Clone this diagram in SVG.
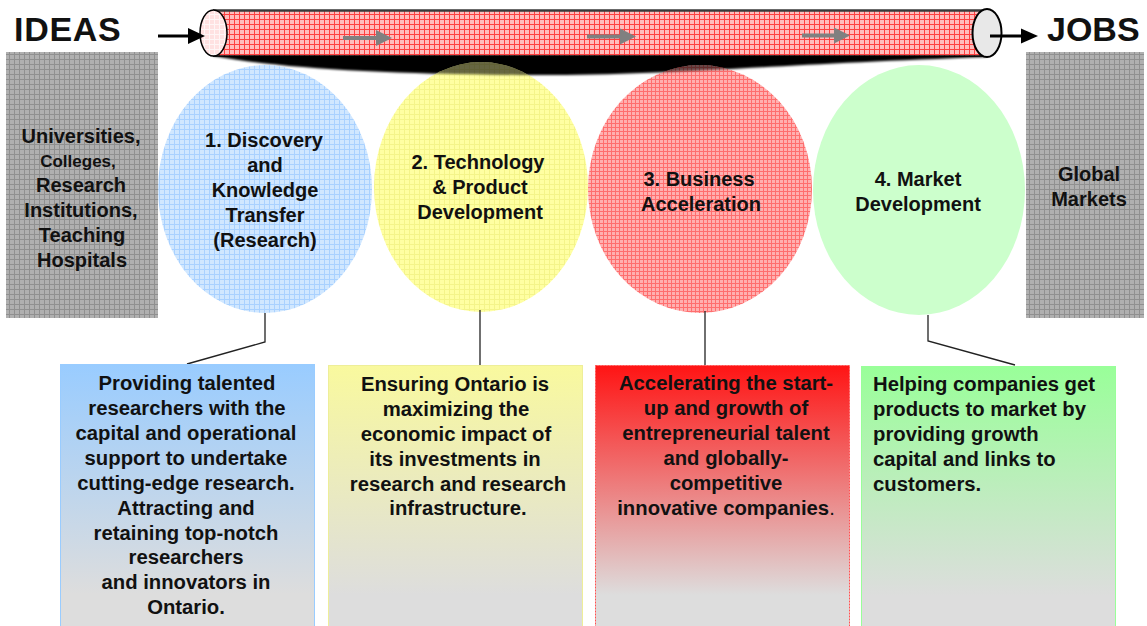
<svg xmlns="http://www.w3.org/2000/svg" width="1147" height="626" viewBox="0 0 1147 626">
  <style>
    .t { font-family: "Liberation Sans", Arial, sans-serif; font-weight: bold; fill: #111; }
    .big { font-size: 34px; }
    .lbl { font-size: 20px; text-anchor: middle; }
    .body { font-size: 20.3px; }
    .mid { text-anchor: middle; }
    .conn { fill: none; stroke: #222; stroke-width: 1.3; }
  </style>
  <defs>
    <pattern id="gridGray" width="5" height="5" patternUnits="userSpaceOnUse">
      <rect width="5" height="5" fill="#b0b0b0"/>
      <path d="M0 4.5H5M4.5 0V5" stroke="#909090" stroke-width="1"/>
    </pattern>
    <pattern id="gridBlue" width="5" height="5" patternUnits="userSpaceOnUse">
      <rect width="5" height="5" fill="#d0e7ff"/>
      <path d="M0 4.5H5M4.5 0V5" stroke="#a9d1ff" stroke-width="1"/>
    </pattern>
    <pattern id="gridYellow" width="5" height="5" patternUnits="userSpaceOnUse">
      <rect width="5" height="5" fill="#ffffa2"/>
      <path d="M0 4.5H5M4.5 0V5" stroke="#f4f48a" stroke-width="1"/>
    </pattern>
    <pattern id="gridRed" width="4" height="4" patternUnits="userSpaceOnUse">
      <rect width="4" height="4" fill="#ffb0b0"/>
      <path d="M0 3.5H4M3.5 0V4" stroke="#ff6e6e" stroke-width="1"/>
    </pattern>
    <pattern id="gridPipe" width="5" height="5" patternUnits="userSpaceOnUse">
      <rect width="5" height="5" fill="#ffbcbc"/>
      <path d="M0 4.5H5M4.5 0V5" stroke="#ff4040" stroke-width="1"/>
    </pattern>
    <pattern id="gridCap" width="5" height="5" patternUnits="userSpaceOnUse">
      <rect width="5" height="5" fill="#ffe2e2"/>
      <path d="M0 4.5H5M4.5 0V5" stroke="#fff6f6" stroke-width="1"/>
    </pattern>
    <linearGradient id="gBlue" x1="0" y1="0" x2="0" y2="1">
      <stop offset="0" stop-color="#99ccff"/>
      <stop offset="0.85" stop-color="#dddddd"/>
    </linearGradient>
    <linearGradient id="gYellow" x1="0" y1="0" x2="0" y2="1">
      <stop offset="0" stop-color="#f9f99e"/>
      <stop offset="0.85" stop-color="#dddddd"/>
    </linearGradient>
    <linearGradient id="gRed" x1="0" y1="0" x2="0" y2="1">
      <stop offset="0" stop-color="#ff1414"/>
      <stop offset="0.85" stop-color="#dddddd"/>
    </linearGradient>
    <linearGradient id="gGreen" x1="0" y1="0" x2="0" y2="1">
      <stop offset="0" stop-color="#99ff99"/>
      <stop offset="0.85" stop-color="#dddddd"/>
    </linearGradient>
    <filter id="soft" x="-5%" y="-50%" width="110%" height="200%">
      <feGaussianBlur stdDeviation="0.8"/>
    </filter>
    <path id="shadow" d="M213 50 L213 56 C280 68 380 74 520 75 C660 76 760 65 987 57 L987 50 Z"/>
    <clipPath id="ellClip">
      <ellipse cx="481" cy="187" rx="107" ry="125"/>
      <ellipse cx="700" cy="189" rx="112" ry="124"/>
    </clipPath>
  </defs>

  <rect width="1147" height="626" fill="#ffffff"/>

  <!-- end labels -->
  <text class="t big" x="14" y="41" letter-spacing="0.7">IDEAS</text>
  <text class="t big" x="1047" y="41">JOBS</text>

  <!-- pipeline shadow under the tube -->
  <use href="#shadow" fill="#000" filter="url(#soft)"/>

  <!-- source and destination boxes -->
  <g id="source">
    <rect x="6" y="52" width="152" height="266" fill="url(#gridGray)"/>
    <text class="t lbl" x="81" y="143">Universities,</text>
    <text class="t lbl" x="78" y="167" style="font-size:17px">Colleges,</text>
    <text class="t lbl" x="81" y="192">Research</text>
    <text class="t lbl" x="81" y="217">Institutions,</text>
    <text class="t lbl" x="82" y="242">Teaching</text>
    <text class="t lbl" x="82" y="267">Hospitals</text>
  </g>
  <g id="markets">
    <rect x="1026" y="52" width="118" height="266" fill="url(#gridGray)"/>
    <text class="t lbl" x="1089" y="181">Global</text>
    <text class="t lbl" x="1089" y="206">Markets</text>
  </g>

  <!-- stage ellipses -->
  <g id="stage1">
    <ellipse cx="265" cy="189" rx="107" ry="124" fill="url(#gridBlue)"/>
    <text class="t lbl" x="264" y="147">1. Discovery</text>
    <text class="t lbl" x="265" y="172">and</text>
    <text class="t lbl" x="265" y="197">Knowledge</text>
    <text class="t lbl" x="265" y="222">Transfer</text>
    <text class="t lbl" x="265" y="247">(Research)</text>
  </g>
  <g id="stage2">
    <ellipse cx="481" cy="187" rx="107" ry="125" fill="url(#gridYellow)"/>
    <text class="t lbl" x="478" y="169">2. Technology</text>
    <text class="t lbl" x="480" y="194">&amp; Product</text>
    <text class="t lbl" x="480" y="219">Development</text>
  </g>
  <g id="stage3">
    <ellipse cx="700" cy="189" rx="112" ry="124" fill="url(#gridRed)"/>
    <text class="t lbl" x="699" y="186">3. Business</text>
    <text class="t lbl" x="701" y="211">Acceleration</text>
  </g>
  <g id="stage4">
    <ellipse cx="919" cy="190" rx="106" ry="125" fill="#ccffcc"/>
    <text class="t lbl" x="918" y="186">4. Market</text>
    <text class="t lbl" x="918" y="211">Development</text>
  </g>

  <!-- shadow showing through the ellipse tops -->
  <use href="#shadow" fill="#000" opacity="0.6" clip-path="url(#ellClip)" filter="url(#soft)"/>

  <!-- pipeline tube -->
  <g id="pipeline">
    <rect x="213" y="10" width="774" height="46" fill="url(#gridPipe)"/>
    <line x1="213" y1="10.5" x2="987" y2="10.5" stroke="#3a3a3a" stroke-width="2.5"/>
    <line x1="213" y1="56" x2="987" y2="56" stroke="#000" stroke-width="1.5"/>
    <g fill="#808080">
      <rect x="343" y="36" width="34" height="4"/>
      <path d="M376 30 L392 38 L376 46 Z"/>
      <rect x="587" y="34.5" width="34" height="4"/>
      <path d="M620 28.5 L636 36.5 L620 44.5 Z"/>
      <rect x="802" y="33.5" width="33" height="4"/>
      <path d="M834 27.5 L850 35.5 L834 43.5 Z"/>
    </g>
    <ellipse cx="213.5" cy="33" rx="13.5" ry="23" fill="url(#gridCap)" stroke="#000" stroke-width="1.5"/>
    <ellipse cx="987" cy="33" rx="14.5" ry="24" fill="#e8e8e8" stroke="#000" stroke-width="2"/>
  </g>

  <!-- flow arrows and callout leaders -->
  <g id="connectors">
    <line x1="158" y1="36" x2="190" y2="36" stroke="#000" stroke-width="3"/>
    <path d="M188 28 L205 36 L188 44 Z" fill="#000"/>
    <line x1="990" y1="36" x2="1023" y2="36" stroke="#000" stroke-width="3"/>
    <path d="M1021 28.5 L1038 36 L1021 43.5 Z" fill="#000"/>
    <path class="conn" d="M265 313 V342 L187 364"/>
    <path class="conn" d="M480 310 V365" stroke="#444"/>
    <path class="conn" d="M705 311 V365"/>
    <path class="conn" d="M928 315 V341 L1015 365"/>
  </g>

  <!-- description boxes -->
  <g id="desc1">
    <rect x="60.5" y="364.5" width="254" height="270" fill="url(#gBlue)" stroke="#99ccff"/>
    <g class="t body mid">
      <text x="187" y="390">Providing talented</text>
      <text x="187" y="415">researchers with the</text>
      <text x="186" y="440">capital and operational</text>
      <text x="186" y="465">support to undertake</text>
      <text x="186" y="490">cutting-edge research.</text>
      <text x="186" y="515">Attracting and</text>
      <text x="186" y="540">retaining top-notch</text>
      <text x="186" y="564">researchers</text>
      <text x="186" y="589">and innovators in</text>
      <text x="186" y="614">Ontario.</text>
    </g>
  </g>
  <g id="desc2">
    <rect x="328.5" y="365.5" width="254" height="270" fill="url(#gYellow)" stroke="#eeee99"/>
    <g class="t body mid">
      <text x="455" y="391">Ensuring Ontario is</text>
      <text x="456" y="416">maximizing the</text>
      <text x="456" y="441">economic impact of</text>
      <text x="455" y="466">its investments in</text>
      <text x="458" y="491">research and research</text>
      <text x="458" y="515">infrastructure.</text>
    </g>
  </g>
  <g id="desc3">
    <rect x="595.5" y="365.5" width="254" height="270" fill="url(#gRed)" stroke="#ff5050" stroke-dasharray="2 1"/>
    <g class="t body mid">
      <text x="726" y="390">Accelerating the start-</text>
      <text x="726" y="415">up and growth of</text>
      <text x="726" y="440">entrepreneurial talent</text>
      <text x="726" y="465">and globally-</text>
      <text x="726" y="490">competitive</text>
      <text x="726" y="515">innovative companies<tspan style="font-weight:normal">.</tspan></text>
    </g>
  </g>
  <g id="desc4">
    <rect x="861.5" y="366.5" width="254" height="270" fill="url(#gGreen)" stroke="#99ff99"/>
    <g class="t body">
      <text x="873" y="391">Helping companies get</text>
      <text x="873" y="416">products to market by</text>
      <text x="873" y="441">providing growth</text>
      <text x="873" y="466">capital and links to</text>
      <text x="873" y="491">customers.</text>
    </g>
  </g>
</svg>
